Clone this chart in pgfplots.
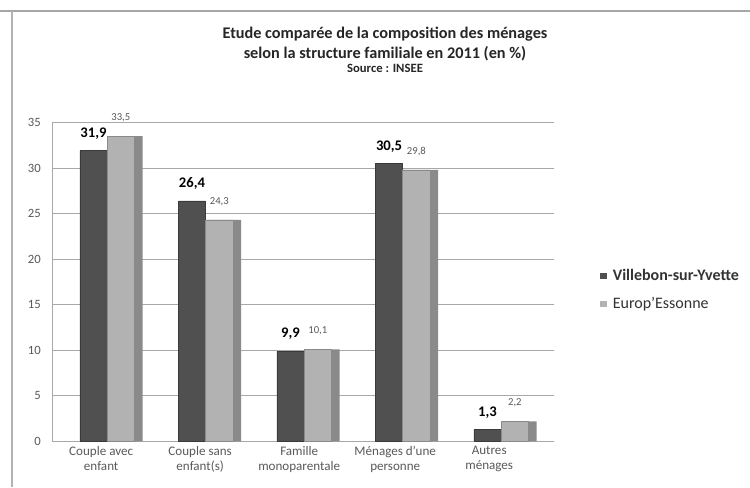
\documentclass[border=0pt]{standalone}
\usepackage{fontspec}
\setmainfont{Carlito}
\usepackage{pgfplots}
\pgfplotsset{compat=1.18}
\definecolor{darkbar}{HTML}{505050}
\definecolor{darkbaredge}{HTML}{3A3A3A}
\definecolor{lightbar}{HTML}{B2B2B2}
\definecolor{lightbarside}{HTML}{8A8A8A}
\definecolor{gridgray}{HTML}{A8A8A8}
\definecolor{labelgray}{HTML}{5A5A5A}
\begin{document}
\begin{tikzpicture}[x=0.75pt,y=0.75pt]
% page: 750 x 487 px, origin at bottom-left
\path[use as bounding box, fill=white] (0,0) rectangle (750,487);
\draw[gray!70, line width=1.2pt] (0,476) -- (750,476);
\draw[gray!60, line width=0.8pt] (12,0) -- (12,476);
% title
\node[align=center, font=\fontsize{12.2}{14.6}\selectfont\bfseries, text=black!85] at (385,443)
  {Etude comparée de la composition des ménages\\selon la structure familiale en 2011 (en \%)};
\node[font=\fontsize{9.5}{11}\selectfont\bfseries, text=black!85] at (385,419) {Source : INSEE};
\begin{axis}[
  at={(53,50)}, anchor=south west,
  scale only axis, width=376.5pt, height=239.25pt,
  xmin=-0.558, xmax=4.538, ymin=0, ymax=35,
  ytick={0,5,...,35},
  % category names sit slightly left of the bar pairs (perspective of the 3D floor)
  xtick={-0.061,0.944,1.949,2.924,3.878},
  xticklabels={{Couple avec\\enfant},{Couple sans\\enfant(s)},{Famille\\monoparentale},{Ménages d'une\\personne},{Autres\\ménages}},
  xticklabel style={align=center, font=\fontsize{9.8}{11.5}\selectfont, text=labelgray},
  yticklabel style={font=\fontsize{9.5}{11}\selectfont, text=labelgray, xshift=-5pt},
  /pgf/number format/assume math mode=true,
  major tick length=0pt,
  axis x line*=bottom, axis y line*=left,
  axis line style={gridgray, -},
  ymajorgrids, grid style={gridgray, line width=0.6pt},
  ybar=0pt, bar width=20.5pt,
  nodes near coords,
  nodes near coords align={vertical},
  legend cell align=left,
  legend style={at={(1.083,0.475)}, anchor=west, draw=none, fill=none,
    font=\fontsize{12}{14}\selectfont, text=black!80, row sep=7pt},
  legend image code/.code={\fill[#1, draw=none] (0pt,-2.4pt) rectangle (4.8pt,2.4pt);
    \path[draw=none, fill=none] (0pt,0pt) -- (7.5pt,0pt);},
]
% side face of the light bars, drawn first so the front faces cover most of it
\addplot[forget plot, draw=none, fill=lightbarside, bar width=26.5pt, bar shift=13.25pt,
  nodes near coords={}]
  coordinates {(0,33.5) (1,24.3) (2,10.1) (3,29.8) (4,2.2)};
\addplot[draw=darkbaredge, fill=darkbar, bar shift=-10.25pt,
  every node near coord/.append style={font=\fontsize{11}{13}\selectfont\bfseries, text=black, yshift=5pt,
    /pgf/number format/.cd, use comma, fixed, fixed zerofill, precision=1}]
  coordinates {(0,31.9) (1,26.4) (2,9.9) (3,30.5) (4,1.3)};
\addplot[draw=lightbarside, fill=lightbar, bar shift=10.25pt,
  every node near coord/.append style={font=\fontsize{8}{9}\selectfont, text=labelgray, yshift=7pt,
    /pgf/number format/.cd, use comma, fixed, fixed zerofill, precision=1}]
  coordinates {(0,33.5) (1,24.3) (2,10.1) (3,29.8) (4,2.2)};
\legend{\textbf{Villebon-sur-Yvette}, Europ'Essonne}
\end{axis}
\end{tikzpicture}
\end{document}
